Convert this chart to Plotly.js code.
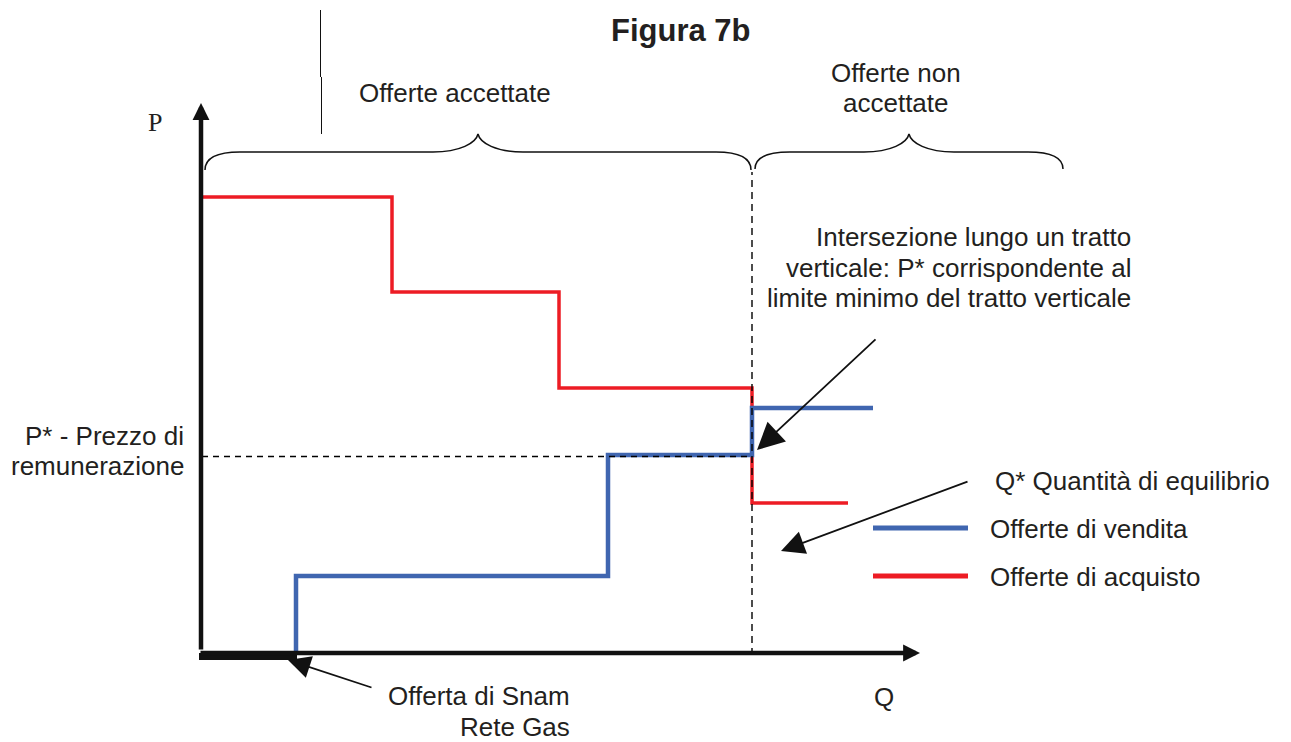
<!DOCTYPE html>
<html>
<head>
<meta charset="utf-8">
<script src="https://cdn.plot.ly/plotly-3.0.1.min.js"></script>
<style>html,body{margin:0;padding:0;background:#fff;}#chart{width:1291px;height:742px;}</style>
</head>
<body>
<div id="chart"></div>
<script>
// ---- data (conceptual units: Q quantity, P price) ----
const buyQ  = [0, 19.0, 35.7, 55.0, 64.6];     // Offerte di acquisto (step breakpoints)
const buyP  = [45.8, 36.3, 26.7, 15.2, 15.2];
const sellQ = [9.4, 40.6, 55.0, 67.1];          // Offerte di vendita
const sellP = [0, 7.9, 20.0, 24.7];
const Q_STAR = 55.0;   // Quantità di equilibrio
const P_STAR = 20.0;   // Prezzo di remunerazione
const SNAM_Q = 9.4;    // Offerta di Snam Rete Gas (tratto sull'asse)
const AXIS_QMAX = 71.8, AXIS_PMAX = 55.2;

const legendLabels = ["Q* Quantità di equilibrio", "Offerte di vendita", "Offerte di acquisto"];
const intersezioneLines = ["Intersezione lungo un tratto", "verticale: P* corrispondente al", "limite minimo del tratto verticale"];

// ---- layout helpers (page pixels -> axis units) ----
const X = px => (px - 202) / 10;
const Y = py => (655 - py) / 10;
const FONT = "Liberation Sans, Arial, sans-serif";
const TXT = "#231f20";
const BLUE = "#4066b0", RED = "#ed1c24";

const traces = [
  {x: buyQ, y: buyP, mode: "lines", line: {shape: "hv", color: RED, width: 3.5}, hoverinfo: "skip"},
  {x: sellQ, y: sellP, mode: "lines", line: {shape: "vh", color: BLUE, width: 4.5}, hoverinfo: "skip"}
];

function brace(x0, x1, yEnd, yFlat, yTip, curl, tipw) {
  const xm = (x0 + x1) / 2;
  return `M ${x0},${yEnd} Q ${x0},${yFlat} ${x0+curl},${yFlat} L ${xm-tipw},${yFlat} ` +
         `C ${xm-tipw*0.4},${yFlat} ${xm-0.2},${yFlat+(yTip-yFlat)*0.5} ${xm},${yTip} ` +
         `C ${xm+0.2},${yFlat+(yTip-yFlat)*0.5} ${xm+tipw*0.4},${yFlat} ${xm+tipw},${yFlat} ` +
         `L ${x1-curl},${yFlat} Q ${x1},${yFlat} ${x1},${yEnd}`;
}

const shapes = [
  // dashed guides
  {type: "line", x0: 0, x1: Q_STAR, y0: P_STAR - 0.15, y1: P_STAR - 0.15, line: {color: "#000", width: 1.4, dash: "6px,5px"}},
  {type: "line", x0: Q_STAR, x1: Q_STAR, y0: 0, y1: Y(172), line: {color: "#000", width: 1.4, dash: "7px,5px"}},
  // thick Snam segment on Q axis
  {type: "line", x0: X(199), x1: SNAM_Q + 0.1, y0: -0.15, y1: -0.15, line: {color: "#111", width: 7}},
  // braces
  {type: "path", path: brace(X(205), X(751), Y(170), Y(152), Y(134), 3.5, 4.5), line: {color: "#111", width: 1.5}},
  {type: "path", path: brace(X(755), X(1063), Y(169), Y(152), Y(134), 3.5, 4.5), line: {color: "#111", width: 1.5}},
  // thin vertical mark at top
  {type: "line", x0: X(320.5), x1: X(320.5), y0: Y(10), y1: Y(77), line: {color: "#111", width: 1}},
  {type: "line", x0: X(321.5), x1: X(321.5), y0: Y(77), y1: Y(134), line: {color: "#111", width: 1}},
  // legend swatches
  {type: "line", x0: X(873), x1: X(968), y0: Y(528), y1: Y(528), line: {color: BLUE, width: 5}},
  {type: "line", x0: X(873), x1: X(968), y0: Y(576), y1: Y(576), line: {color: RED, width: 5}}
];

function txt(text, px, py, opts) {
  return Object.assign({text: text, x: X(px), y: Y(py), xref: "x", yref: "y", showarrow: false,
    xanchor: "center", yanchor: "middle", font: {family: FONT, size: 26, color: TXT}}, opts || {});
}
function arrow(hx, hy, tx, ty, w, size) {
  return {text: "", x: X(hx), y: Y(hy), ax: X(tx), ay: Y(ty), xref: "x", yref: "y", axref: "x", ayref: "y",
    showarrow: true, arrowhead: 2, arrowwidth: w, arrowsize: size, arrowcolor: "#111", standoff: 0};
}

const annotations = [
  // axes with arrows
  {text: "", x: -0.1, y: AXIS_PMAX, ax: -0.1, ay: 0.4, xref: "x", yref: "y", axref: "x", ayref: "y",
   showarrow: true, arrowhead: 2, arrowwidth: 4.5, arrowsize: 0.75, arrowcolor: "#111", standoff: 0},
  {text: "", x: AXIS_QMAX, y: 0.2, ax: X(199), ay: 0.2, xref: "x", yref: "y", axref: "x", ayref: "y",
   showarrow: true, arrowhead: 2, arrowwidth: 4.5, arrowsize: 0.75, arrowcolor: "#111", standoff: 0},
  // pointer arrows
  arrow(757, 450, 877, 338, 1.8, 3.0),
  arrow(781, 551, 969, 481, 1.8, 2.6),
  arrow(288, 660, 373, 688, 1.8, 2.5),
  // texts
  txt("Figura 7b", 681, 30, {font: {family: FONT, size: 31, color: TXT, weight: "bold"}}),
  txt("Offerte accettate", 455, 93),
  txt("Offerte non", 896, 73),
  txt("accettate", 896, 103),
  txt("P", 155, 122, {font: {family: "Liberation Serif, Times New Roman, serif", size: 26, color: TXT}}),
  txt("P* - Prezzo di", 186, 436, {xanchor: "right"}),
  txt("remunerazione", 186, 466, {xanchor: "right"}),
  txt(intersezioneLines[0], 1133, 237, {xanchor: "right"}),
  txt(intersezioneLines[1], 1133, 268, {xanchor: "right"}),
  txt(intersezioneLines[2], 1133, 298, {xanchor: "right"}),
  txt(legendLabels[0], 993, 481, {xanchor: "left"}),
  txt(legendLabels[1], 988, 529, {xanchor: "left"}),
  txt(legendLabels[2], 988, 577, {xanchor: "left"}),
  txt("Offerta di Snam", 572, 696, {xanchor: "right"}),
  txt("Rete Gas", 572, 727, {xanchor: "right"}),
  txt("Q", 884, 697)
];

const layout = {
  width: 1291, height: 742,
  margin: {l: 0, r: 0, t: 0, b: 0, pad: 0},
  paper_bgcolor: "#fff", plot_bgcolor: "#fff",
  showlegend: false,
  xaxis: {range: [X(0), X(1291)], visible: false, showgrid: false, zeroline: false, fixedrange: true},
  yaxis: {range: [Y(742), Y(0)], visible: false, showgrid: false, zeroline: false, fixedrange: true},
  shapes: shapes,
  annotations: annotations
};

Plotly.newPlot("chart", traces, layout, {staticPlot: true, displayModeBar: false});
</script>
</body>
</html>
